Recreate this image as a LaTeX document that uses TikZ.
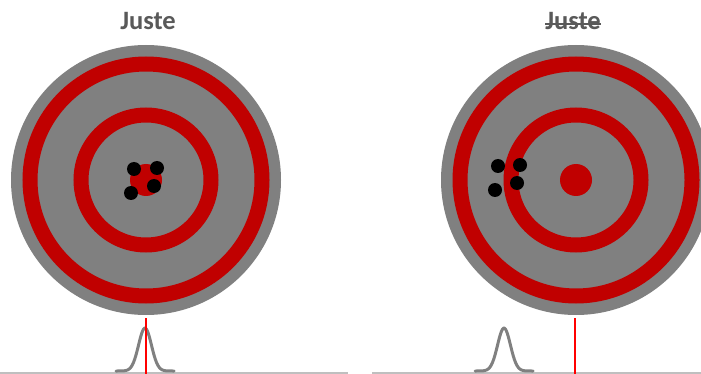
\documentclass[tikz,border=0pt]{standalone}
\usepackage{fontspec}
\setmainfont{Carlito}
\usetikzlibrary{positioning}
\definecolor{targetgray}{RGB}{128,128,128}
\definecolor{ringred}{RGB}{192,0,0}
\definecolor{titlegray}{RGB}{89,89,89}
\definecolor{basegray}{RGB}{191,191,191}

\begin{document}
\begin{tikzpicture}[x=1pt, y=-1pt,
  title/.style={font=\fontsize{26.5}{30}\selectfont\bfseries, text=titlegray,
                anchor=base, inner sep=0pt},
  disc/.style={circle, fill=targetgray, minimum size=270pt, inner sep=0pt},
  ring/.style={draw=ringred, line width=15pt},
  bull/.style={circle, fill=ringred, minimum size=32pt, inner sep=0pt},
  hit/.style={circle, fill=black, minimum size=14pt, inner sep=0pt},
  bell/.style={targetgray, line width=3pt, line cap=round, line join=round},
  truth/.style={red, line width=2.5pt},
  axis/.style={basegray, line width=2pt}
]
\useasboundingbox (0,0) rectangle (701,374);

% Left: precise and accurate
\node[title] (juste) at (148,30) {Juste};
\node[disc] (targetL) at (146,180) {};
\draw[ring] (targetL) circle[radius=116pt];
\draw[ring] (targetL) circle[radius=65pt];
\node[bull] (bullL) at (targetL) {};
\node[hit] (hitLa) at (134,169) {};
\node[hit] (hitLb) at (157,168) {};
\node[hit] (hitLc) at (154,186) {};
\node[hit] (hitLd) at (131,193) {};

% Right: precise, not accurate
\node[title] (pasjuste) at (573,30) {Juste};
\draw[titlegray, line width=2pt] (pasjuste.west |- 0,24) -- (pasjuste.east |- 0,24);
\node[disc] (targetR) at (576,180) {};
\draw[ring] (targetR) circle[radius=116pt];
\draw[ring] (targetR) circle[radius=65pt];
\node[bull] (bullR) at (targetR) {};
\node[hit] (hitRa) at (498,166) {};
\node[hit] (hitRb) at (520,165) {};
\node[hit] (hitRc) at (517,183) {};
\node[hit] (hitRd) at (495,190) {};

% Bottom: distributions against the true value
\coordinate (axisL0) at (0,372.5);
\coordinate (axisL1) at (348,372.5);
\coordinate (axisR0) at (372,372.5);
\coordinate (axisR1) at (701,372.5);
\draw[axis] (axisL0) -- (axisL1);
\draw[axis] (axisR0) -- (axisR1);

\draw[bell] plot[domain=-29:29, samples=60, smooth]
  ({145+\x}, {371-43*exp(-\x*\x/82)});
\draw[bell] plot[domain=-29:29, samples=60, smooth]
  ({504+\x}, {371-43*exp(-\x*\x/82)});

\coordinate (trueL) at (146,318);
\coordinate (trueR) at (575,318);
\draw[truth] (trueL) -- (trueL |- 0,374);
\draw[truth] (trueR) -- (trueR |- 0,374);

\end{tikzpicture}
\end{document}
